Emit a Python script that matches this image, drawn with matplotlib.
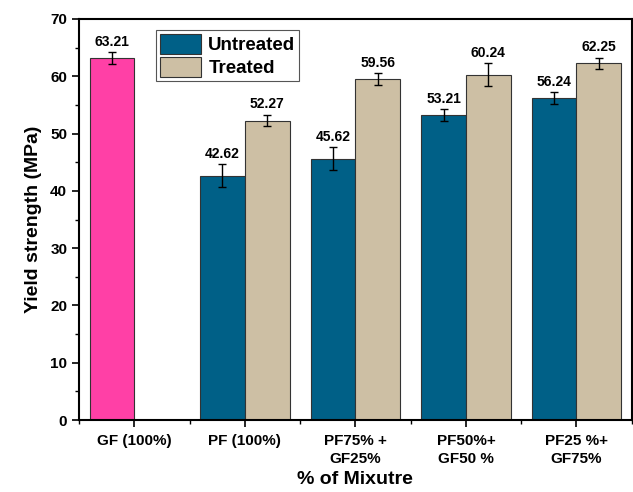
import matplotlib
matplotlib.use("Agg")
import matplotlib.pyplot as plt
import numpy as np
from matplotlib.ticker import MultipleLocator

plt.rcParams['font.family'] = ['Liberation Sans', 'DejaVu Sans']
plt.rcParams['font.weight'] = 'bold'

categories = ["GF (100%)", "PF (100%)", "PF75% +\nGF25%", "PF50%+\nGF50 %", "PF25 %+\nGF75%"]
gf_value = 63.21
gf_err = 1.0
untreated = [42.62, 45.62, 53.21, 56.24]
untreated_err = [2.0, 2.0, 1.05, 1.0]
treated = [52.27, 59.56, 60.24, 62.25]
treated_err = [1.0, 1.0, 2.0, 1.0]

c_gf = "#FF40A6"
c_un = "#006087"
c_tr = "#CDBFA4"

fig = plt.figure(figsize=(6.33, 4.92), dpi=100)
ax = fig.add_axes([79/633, 1-420/492, (633-79)/633 - 0.002, (420-19)/492])

w = 0.405
x = np.arange(len(categories))
ekw = dict(elinewidth=1.0, capsize=3, capthick=1.0, ecolor="black")

ax.bar(x[0] - w/2, gf_value, w, color=c_gf, edgecolor="#333333", linewidth=0.8,
       yerr=gf_err, error_kw=ekw)
ax.bar(x[1:] - w/2, untreated, w, color=c_un, edgecolor="#333333", linewidth=0.8,
       yerr=untreated_err, error_kw=ekw, label="Untreated")
ax.bar(x[1:] + w/2, treated, w, color=c_tr, edgecolor="#333333", linewidth=0.8,
       yerr=treated_err, error_kw=ekw, label="Treated")

def lab(xp, v, e):
    ax.text(xp, v + e + 0.6, f"{v:.2f}", ha="center", va="bottom",
            fontsize=10, fontweight="bold")

lab(x[0] - w/2, gf_value, gf_err)
for i in range(4):
    lab(x[i+1] - w/2, untreated[i], untreated_err[i])
    lab(x[i+1] + w/2, treated[i], treated_err[i])

ax.set_xlim(-0.5, 4.5)
ax.set_ylim(0, 70)
ax.set_xticks(x)
ax.set_xticklabels(categories, fontsize=11, fontweight="bold", linespacing=1.35)
ax.set_xticks(np.arange(-0.5, 4.6, 1.0), minor=True)
ax.yaxis.set_major_locator(MultipleLocator(10))
ax.yaxis.set_minor_locator(MultipleLocator(5))
ax.tick_params(axis="both", which="major", direction="out", length=5, width=1.2, labelsize=11)
ax.tick_params(axis="x", which="major", pad=5)
ax.tick_params(axis="both", which="minor", direction="out", length=3, width=1.0)
for lbl in ax.get_yticklabels():
    lbl.set_fontweight("bold")

for s in ["left", "bottom", "top", "right"]:
    ax.spines[s].set_linewidth(1.5)

ax.set_xlabel("% of Mixutre", fontsize=14, fontweight="bold", labelpad=4)
ax.set_ylabel("Yield strength (MPa)", fontsize=14, fontweight="bold", labelpad=6)

leg = ax.legend(loc="upper left", bbox_to_anchor=((156-79)/554, 1 - (30-19)/401),
                prop={"weight": "bold", "size": 13.5},
                handlelength=2.2, handleheight=1.25, handletextpad=0.4,
                labelspacing=0.15, borderpad=0.2, borderaxespad=0,
                fancybox=False, framealpha=1, edgecolor="#555555")
leg.get_frame().set_linewidth(0.8)

fig.savefig("out.png", dpi=100)
